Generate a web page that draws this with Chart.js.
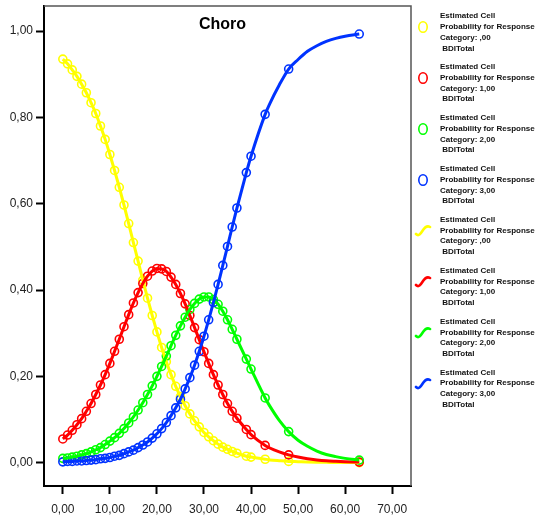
<!DOCTYPE html>
<html>
<head>
<meta charset="utf-8">
<title>Choro</title>
<script src="https://cdn.jsdelivr.net/npm/chart.js@4"></script>
<style>
  body { margin: 0; background: #fff; }
  #wrap { position: relative; width: 540px; height: 521px; }
  #title {
    position: absolute; left: 0; top: 16px; width: 445px; text-align: center;
    font: bold 16px "Liberation Sans", Arial, sans-serif; line-height: 16px; color: #000;
  }
  .entry {
    position: absolute; left: 440px;
    font: bold 8px "Liberation Sans", Arial, sans-serif; line-height: 10.7px; color: #111;
    white-space: nowrap;
  }
  .icon { position: absolute; left: 414px; }
</style>
</head>
<body>
<div id="wrap">
  <canvas id="chart" width="540" height="521"></canvas>
  <div id="title">Choro</div>
  <div id="legend"></div>
</div>

<script>
"use strict"

// BDITotal values where the points sit
const bdi = [0, 1, 2, 3, 4, 5, 6, 7, 8, 9, 10, 11, 12, 13, 14, 15, 16, 17, 18, 19,
  20, 21, 22, 23, 24, 25, 26, 27, 28, 29, 30, 31, 32, 33, 34, 35, 36, 37, 39, 40, 43, 48, 63];

// estimated probabilities per response category
const cat0 = [0.935, 0.924, 0.910, 0.895, 0.877, 0.857, 0.834, 0.809, 0.780, 0.749,
  0.714, 0.677, 0.638, 0.597, 0.554, 0.510, 0.467, 0.423, 0.381, 0.341,
  0.303, 0.267, 0.234, 0.204, 0.177, 0.153, 0.132, 0.113, 0.097, 0.083,
  0.070, 0.060, 0.051, 0.043, 0.036, 0.031, 0.026, 0.022, 0.015, 0.013, 0.008, 0.003, 0.0002];
const cat1 = [0.055, 0.064, 0.075, 0.088, 0.102, 0.119, 0.137, 0.158, 0.180, 0.204,
  0.230, 0.258, 0.286, 0.315, 0.343, 0.370, 0.394, 0.415, 0.432, 0.444,
  0.450, 0.449, 0.443, 0.430, 0.413, 0.392, 0.368, 0.341, 0.313, 0.285,
  0.257, 0.230, 0.204, 0.180, 0.158, 0.137, 0.119, 0.103, 0.077, 0.065, 0.040, 0.018, 0.0014];
const cat2 = [0.010, 0.011, 0.013, 0.015, 0.018, 0.021, 0.025, 0.030, 0.035, 0.042,
  0.050, 0.058, 0.068, 0.079, 0.092, 0.106, 0.122, 0.139, 0.158, 0.178,
  0.200, 0.223, 0.247, 0.271, 0.295, 0.317, 0.337, 0.355, 0.369, 0.379,
  0.384, 0.384, 0.378, 0.367, 0.351, 0.331, 0.309, 0.286, 0.240, 0.217, 0.150, 0.072, 0.006];
const cat3 = [0.002, 0.003, 0.003, 0.004, 0.004, 0.005, 0.006, 0.007, 0.009, 0.010,
  0.012, 0.015, 0.017, 0.021, 0.025, 0.029, 0.035, 0.041, 0.048, 0.057,
  0.067, 0.079, 0.093, 0.109, 0.127, 0.147, 0.171, 0.197, 0.226, 0.258,
  0.293, 0.331, 0.371, 0.413, 0.457, 0.501, 0.546, 0.590, 0.672, 0.710, 0.807, 0.912, 0.993];

// extra readings of the fitted curves in the gap between the points
const fitX = [44, 46, 50, 52, 54, 56, 58, 60];
const fit0 = [0.0065, 0.0046, 0.0023, 0.0016, 0.0011, 0.0008, 0.0005, 0.0004];
const fit1 = [0.034, 0.025, 0.013, 0.009, 0.0064, 0.0045, 0.0033, 0.0023];
const fit2 = [0.131, 0.098, 0.052, 0.038, 0.027, 0.019, 0.014, 0.010];
const fit3 = [0.832, 0.875, 0.934, 0.953, 0.966, 0.976, 0.983, 0.988];

const catNames = [",00", "1,00", "2,00", "3,00"];
const colors = ["#ffff00", "#ff0000", "#00ff00", "#0033ff"];
const xTicks = [0, 10, 20, 30, 40, 50, 60, 70];
const yTicks = [0, 0.2, 0.4, 0.6, 0.8, 1.0];

const series = [cat0, cat1, cat2, cat3];
const fits = [fit0, fit1, fit2, fit3];

function toXY(xs, values) {
  return values.map((v, i) => ({ x: xs[i], y: v }));
}

function fmt(v) {
  return v.toFixed(2).replace(".", ",");
}

// points first, then the fitted lines on top
let datasets = [];
series.forEach((vals, i) => {
  datasets.push({
    label: "Points " + catNames[i],
    data: toXY(bdi, vals),
    showLine: false,
    borderColor: colors[i],
    backgroundColor: "rgba(0,0,0,0)",
    pointRadius: 4,
    pointBorderWidth: 1.6,
    pointBackgroundColor: "rgba(0,0,0,0)",
    order: 8 - i
  });
});
series.forEach((vals, i) => {
  let pts = toXY(bdi, vals).concat(toXY(fitX, fits[i]));
  pts.sort((a, b) => a.x - b.x);
  datasets.push({
    label: "Line " + catNames[i],
    data: pts,
    showLine: true,
    borderColor: colors[i],
    borderWidth: 3,
    pointRadius: 0,
    cubicInterpolationMode: "monotone",
    order: 4 - i
  });
});

// gray top and right frame
const framePlugin = {
  id: "frame",
  afterDraw(chart) {
    const a = chart.chartArea;
    const ctx = chart.ctx;
    ctx.save();
    ctx.strokeStyle = "#555";
    ctx.lineWidth = 1.5;
    ctx.beginPath();
    ctx.moveTo(a.left, a.top);
    ctx.lineTo(a.right, a.top);
    ctx.lineTo(a.right, a.bottom);
    ctx.stroke();
    ctx.restore();
  }
};

const ctx = document.getElementById("chart").getContext("2d");

new Chart(ctx, {
  type: "scatter",
  data: { datasets: datasets },
  options: {
    responsive: false,
    animation: false,
    layout: { padding: { top: 6, right: 129, left: 0, bottom: 0 } },
    plugins: { legend: { display: false }, tooltip: { enabled: false } },
    scales: {
      x: {
        type: "linear",
        min: -4,
        max: 74,
        afterBuildTicks: s => { s.ticks = xTicks.map(v => ({ value: v })); },
        afterFit: s => { s.height = 35; s.paddingLeft = 0; s.paddingRight = 0; },
        border: { color: "#000", width: 2 },
        grid: { drawOnChartArea: false, drawTicks: true, tickLength: 8, tickColor: "#000", tickWidth: 2 },
        ticks: {
          padding: 8,
          color: "#222",
          font: { family: "'Liberation Sans', Arial, sans-serif", size: 12 },
          callback: v => fmt(v)
        }
      },
      y: {
        min: -0.054,
        max: 1.058,
        afterBuildTicks: s => { s.ticks = yTicks.map(v => ({ value: v })); },
        afterFit: s => { s.width = 44; s.paddingTop = 0; s.paddingBottom = 0; },
        border: { color: "#000", width: 2 },
        grid: { drawOnChartArea: false, drawTicks: true, tickLength: 8, tickColor: "#000", tickWidth: 2 },
        ticks: {
          padding: 3,
          color: "#222",
          font: { family: "'Liberation Sans', Arial, sans-serif", size: 12 },
          callback: v => fmt(v)
        }
      }
    }
  },
  plugins: [framePlugin]
});

// legend on the right, built from the same names and colours
const legendEl = document.getElementById("legend");

function addEntry(idx, catIdx, isLine) {
  const top = 11.4 + 50.9 * idx;
  let entry = document.createElement("div");
  entry.className = "entry";
  entry.style.top = top + "px";
  entry.innerHTML = "Estimated Cell<br>Probability for Response<br>Category: " +
    catNames[catIdx] + "<br>&nbsp;BDITotal";
  legendEl.appendChild(entry);

  let icon = document.createElement("div");
  icon.className = "icon";
  let svg;
  if (isLine) {
    icon.style.top = (top + 8) + "px";
    svg = '<svg width="18" height="14"><path d="M2 11 C5 14, 7 10, 9 7 S13 2, 16 4" fill="none" stroke="' +
      colors[catIdx] + '" stroke-width="2.6" stroke-linecap="round"/></svg>';
  } else {
    icon.style.top = (top + 9) + "px";
    svg = '<svg width="18" height="14"><ellipse cx="9" cy="7" rx="4.2" ry="5.3" fill="none" stroke="' +
      colors[catIdx] + '" stroke-width="1.6"/></svg>';
  }
  icon.innerHTML = svg;
  legendEl.appendChild(icon);
}

for (let i = 0; i < 4; i++) addEntry(i, i, false);
for (let i = 0; i < 4; i++) addEntry(i + 4, i, true);
</script>
</body>
</html>
